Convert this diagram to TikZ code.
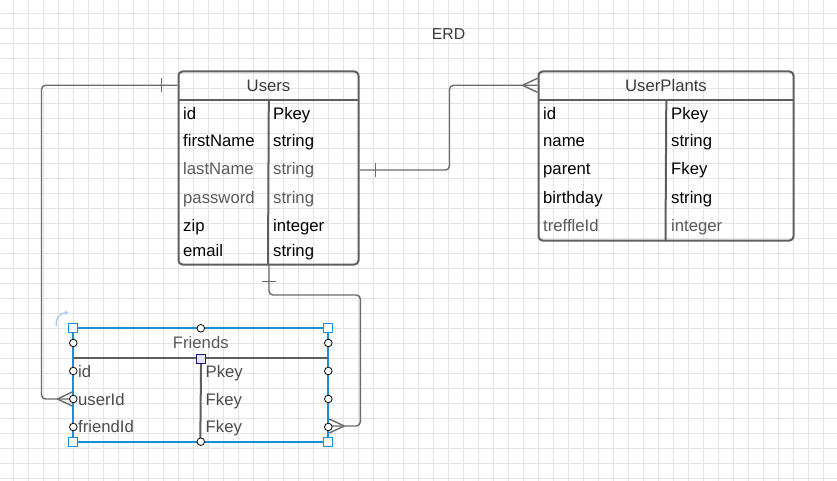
\documentclass[tikz,border=0pt]{standalone}
\usepackage{fontspec}
\setmainfont{Liberation Sans}
\usetikzlibrary{calc,arrows.meta}
\definecolor{gridc}{HTML}{E4E4E4}
\definecolor{boxc}{HTML}{5E5E5E}
\definecolor{connc}{HTML}{6A6A6A}
\definecolor{headc}{HTML}{3A3A3A}
\definecolor{softc}{HTML}{5A5A5A}
\definecolor{selc}{HTML}{1B8FD6}
\definecolor{navy}{HTML}{1A1A80}
\definecolor{lav}{HTML}{E4E4F4}
\definecolor{rotc}{HTML}{A9CBEF}
\begin{document}
\begin{tikzpicture}[x=1pt,y=-1pt,
  font=\fontsize{16.7}{20}\selectfont,
  tbl/.style={draw=boxc, line width=2pt, rounded corners=4pt, inner sep=0pt},
  ttl/.style={inner sep=0pt, text height=12pt, text depth=0pt, text=headc},
  fld/.style={anchor=west, inner sep=0pt, text height=12pt, text depth=0pt, text=black},
  sfld/.style={fld, text=softc},
  ffld/.style={fld, text=softc!85!black},
  divl/.style={draw=boxc, line width=2pt},
  conn/.style={draw=connc, line width=1.4pt, rounded corners=4pt},
  crow/.style={draw=connc, line width=1.4pt},
  hcirc/.style={draw=black, fill=white, line width=0.8pt},
  hsq/.style={draw=selc, fill=white, line width=0.9pt}
]
\useasboundingbox (0,0) rectangle (837,481);
\fill[white] (0,0) rectangle (837,481);
% grid
\foreach \gx in {13.5,28.5,...,837} \draw[gridc, line width=0.8pt] (\gx,0) -- (\gx,481);
\foreach \gy in {13.5,28.5,...,481} \draw[gridc, line width=0.8pt] (0,\gy) -- (837,\gy);

% title
\node[text=headc, inner sep=0pt, font=\fontsize{15.8}{19}\selectfont] (erd) at (448.5,34) {ERD};

% ---------- Users ----------
\node[tbl, minimum width=180pt, minimum height=193pt] (users) at (268.5,168) {};
\node[ttl, minimum width=180pt, minimum height=29.2pt, anchor=north] (usersTitle) at (users.north) {Users};
\draw[divl] (usersTitle.south west) -- (usersTitle.south east);
\draw[divl] ($(usersTitle.south west)+(90.5,0)$) -- ($(users.south west)+(90.5,0)$);
\node[fld]  (uId)    at (183,114) {id};
\node[fld]  (uFirst) at (183,141) {firstName};
\node[sfld] (uLast)  at (183,169) {lastName};
\node[sfld] (uPass)  at (183,197) {password};
\node[fld]  (uZip)   at (183,225) {zip};
\node[fld]  (uMail)  at (183,250) {email};
\node[fld]  (uIdT)    at (273,114) {Pkey};
\node[fld]  (uFirstT) at (273,141) {string};
\node[sfld] (uLastT)  at (273,169) {string};
\node[sfld] (uPassT)  at (273,197) {string};
\node[fld]  (uZipT)   at (273,225) {integer};
\node[fld]  (uMailT)  at (273,250) {string};

% ---------- UserPlants ----------
\node[tbl, minimum width=255pt, minimum height=169pt] (plants) at (666,156) {};
\node[ttl, minimum width=255pt, minimum height=29.2pt, anchor=north] (plantsTitle) at (plants.north) {UserPlants};
\draw[divl] (plantsTitle.south west) -- (plantsTitle.south east);
\draw[divl] ($(plantsTitle.south west)+(128,0)$) -- ($(plants.south west)+(128,0)$);
\node[fld]  (pId)    at (543,114) {id};
\node[fld]  (pName)  at (543,141) {name};
\node[fld]  (pPar)   at (543,169) {parent};
\node[fld]  (pBirth) at (543,197) {birthday};
\node[sfld] (pTref)  at (543,225) {treffleId};
\node[fld]  (pIdT)    at (671,114) {Pkey};
\node[fld]  (pNameT)  at (671,141) {string};
\node[fld]  (pParT)   at (671,169) {Fkey};
\node[fld]  (pBirthT) at (671,197) {string};
\node[sfld] (pTrefT)  at (671,225) {integer};

% ---------- Friends ----------
\node[draw=selc, line width=2pt, inner sep=0pt, minimum width=255pt, minimum height=113.4pt] (friends) at (200.8,385) {};
\node[ttl, text=softc, minimum width=255pt, minimum height=30.7pt, anchor=north] (friendsTitle) at (friends.north) {Friends};
\draw[divl] ($(friendsTitle.south west)+(1,0)$) -- ($(friendsTitle.south east)+(-1,0)$);
\draw[divl] ($(friendsTitle.south west)+(128,0)$) -- ($(friends.south west)+(128,-1)$);
\node[ffld] (fId)     at (78,371) {id};
\node[ffld] (fUser)   at (78,399) {userId};
\node[ffld] (fFriend) at (78,426) {friendId};
\node[ffld] (fIdT)     at (205.5,371) {Pkey};
\node[ffld] (fUserT)   at (205.5,399) {Fkey};
\node[ffld] (fFriendT) at (205.5,426) {Fkey};

% ---------- connectors ----------
\coordinate (a1) at (users.west |- usersTitle);
\coordinate (b1) at (friends.west |- fUser);
\draw[conn] (a1) -- ++(-136,0) |- (b1);
\draw[crow] ($(a1)+(-16,-7)$) -- ($(a1)+(-16,7)$);
\draw[crow] ($(b1)+(-15,0)$) -- ($(b1)+(0,-7)$) ($(b1)+(-15,0)$) -- ($(b1)+(0,7)$);

\coordinate (a2) at (users.east |- uLast);
\coordinate (b2) at (plants.west |- plantsTitle);
\draw[conn] ($(a2)+(0,1)$) -- ++(90,0) |- (b2);
\draw[crow] ($(a2)+(16,-6)$) -- ($(a2)+(16,8)$);
\draw[crow] ($(b2)+(-15,0)$) -- ($(b2)+(0,-7)$) ($(b2)+(-15,0)$) -- ($(b2)+(0,7)$);

\coordinate (a3) at ($(users.south)+(0.5,0)$);
\coordinate (b3) at (friends.east |- fFriend);
\draw[conn] (a3) -- ++(0,29.5) -| ($(b3)+(31,0)$) -- (b3);
\draw[crow] ($(a3)+(-7,16)$) -- ($(a3)+(7,16)$);
\draw[crow] ($(b3)+(15,0)$) -- ($(b3)+(0,-7)$) ($(b3)+(15,0)$) -- ($(b3)+(0,7)$);

% ---------- selection handles on Friends ----------
\foreach \hx/\hy in {73.3/343, 73.3/371, 73.3/399, 73.3/427, 328.3/343, 328.3/371, 328.3/399, 328.3/427, 200.8/328.3, 200.8/441.7}
  \filldraw[hcirc] (\hx,\hy) circle (3.8pt);
\foreach \hx/\hy in {73.3/328.3, 328.3/328.3, 73.3/441.7, 328.3/441.7}
  \filldraw[hsq] (\hx-4.5,\hy-4.5) rectangle (\hx+4.5,\hy+4.5);
\filldraw[draw=navy, fill=lav, line width=1pt] (196.5,354.5) rectangle (205.5,363.5);
\draw[rotc, line width=1.3pt, -{Stealth[length=4pt,width=5pt]}] (56.5,326) .. controls (55,318) and (60,313) .. (68.5,312.5);
\end{tikzpicture}
\end{document}
